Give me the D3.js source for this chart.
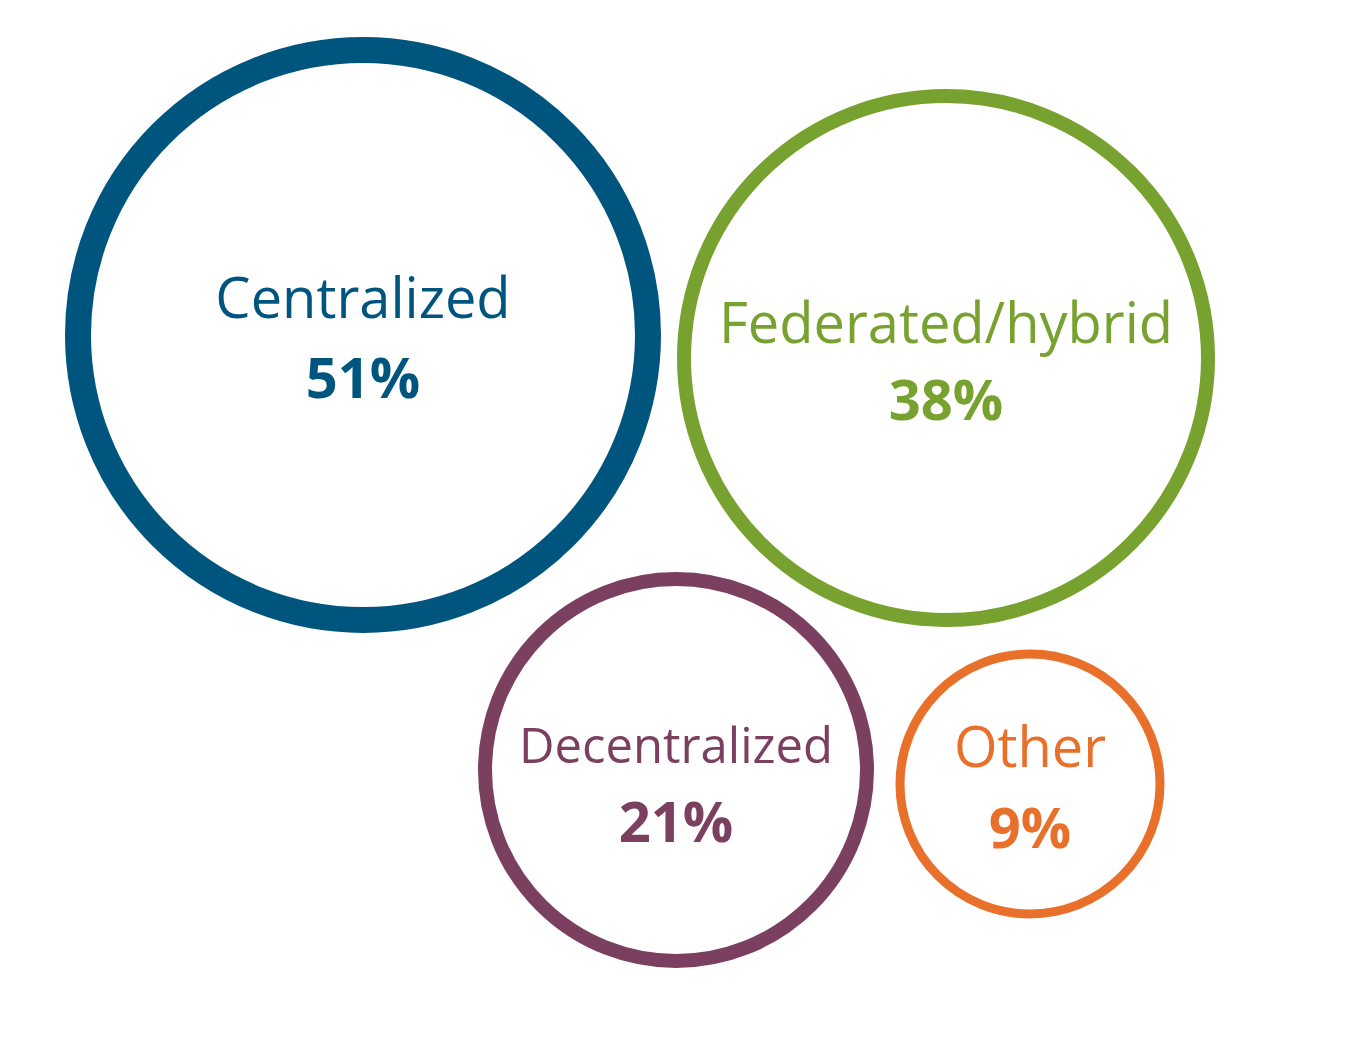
<!DOCTYPE html>
<html><head><meta charset="utf-8">
<script src="https://cdn.jsdelivr.net/npm/d3@7"></script>
<style>body{margin:0;background:#fff}</style></head>
<body><svg id="c" width="1370" height="1043"></svg>
<script>
const categories = ["Centralized","Federated/hybrid","Decentralized","Other"];
const values = [51,38,21,9];
const colors = ["#00557f","#78a22f","#7b3f5f","#e8702a"];

// layout (presentation only)
const layout = [
  {cx:363, cy:335, r:285, sw:26, fs:56, ly:318, py:398},
  {cx:946, cy:358, r:262, sw:14, fs:56, ly:343, py:420},
  {cx:676, cy:770, r:191, sw:14, fs:49, ly:763, py:842},
  {cx:1030,cy:784, r:130, sw:9,  fs:56, ly:767, py:848}
];
const svg = d3.select("#c");
const data = categories.map((c,i)=>({c, v:values[i], col:colors[i], ...layout[i]}));
const g = svg.selectAll("g").data(data).join("g");
g.append("circle").attr("cx",d=>d.cx).attr("cy",d=>d.cy).attr("r",d=>d.r)
 .attr("fill","none").attr("stroke",d=>d.col).attr("stroke-width",d=>d.sw);
g.append("text").attr("x",d=>d.cx).attr("y",d=>d.ly).attr("text-anchor","middle")
 .attr("font-family","Open Sans").attr("font-size",d=>d.fs).attr("fill",d=>d.col).text(d=>d.c);
g.append("text").attr("x",d=>d.cx).attr("y",d=>d.py).attr("text-anchor","middle")
 .attr("font-family","Open Sans").attr("font-weight","bold").attr("font-size",56)
 .attr("fill",d=>d.col).text(d=>d.v+"%");
</script></body></html>
